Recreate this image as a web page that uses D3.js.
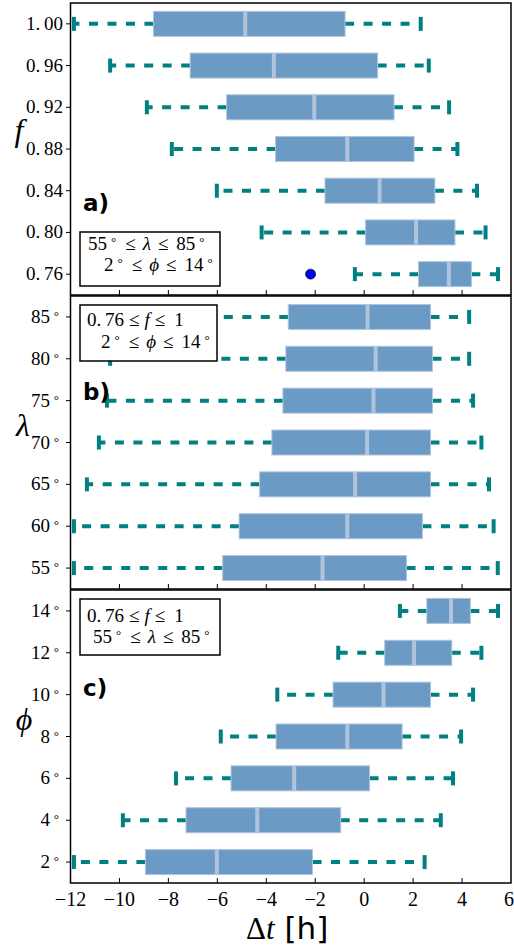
<!DOCTYPE html>
<html>
<head>
<meta charset="utf-8">
<script src="https://cdn.jsdelivr.net/npm/d3@7"></script>
<style>
  body { margin: 0; background: #fff; }
</style>
</head>
<body>
<div id="chart"></div>
<script>
// x ticks
const xTicks = [-12, -10, -8, -6, -4, -2, 0, 2, 4, 6]

// panel a : f (bottom to top)
const fLabels = ["0.\u200976", "0.\u200980", "0.\u200984", "0.\u200988", "0.\u200992", "0.\u200996", "1.\u200900"]
const fWhisLo = [-0.38, -4.19, -6.02, -7.86, -8.88, -10.38, -11.86]
const fQ1 = [2.22, 0.06, -1.60, -3.62, -5.62, -7.11, -8.61]
const fMed = [3.46, 2.12, 0.63, -0.69, -2.04, -3.69, -4.86]
const fQ3 = [4.38, 3.71, 2.89, 2.04, 1.22, 0.55, -0.78]
const fWhisHi = [5.47, 4.96, 4.61, 3.81, 3.47, 2.64, 2.31]
const fOutliers = [[0, -2.19]]

// panel b : lambda
const lamLabels = ["55", "60", "65", "70", "75", "80", "85"]
const lamWhisLo = [-11.86, -11.86, -11.33, -10.84, -10.51, -10.38, -10.2]
const lamQ1 = [-5.78, -5.11, -4.27, -3.77, -3.32, -3.20, -3.10]
const lamMed = [-1.70, -0.69, -0.37, 0.12, 0.38, 0.47, 0.14]
const lamQ3 = [1.73, 2.38, 2.71, 2.71, 2.79, 2.79, 2.71]
const lamWhisHi = [5.46, 5.29, 5.10, 4.79, 4.45, 4.29, 4.29]

// panel c : phi
const phiLabels = ["2", "4", "6", "8", "10", "12", "14"]
const phiWhisLo = [-11.86, -9.86, -7.69, -5.86, -3.55, -1.06, 1.46]
const phiQ1 = [-8.94, -7.28, -5.44, -3.60, -1.27, 0.84, 2.56]
const phiMed = [-6.02, -4.37, -2.86, -0.69, 0.79, 2.04, 3.55]
const phiQ3 = [-2.11, -0.96, 0.22, 1.55, 2.71, 3.58, 4.34]
const phiWhisHi = [2.47, 3.13, 3.63, 3.96, 4.45, 4.79, 5.47]

const width = 514
const height = 946
const serif = "'Liberation Serif', 'DejaVu Serif', serif"
const sans = "'DejaVu Sans', sans-serif"
const PHI = "\u03D5"

const boxColor = "#6b9bc4"
const lightColor = "#b0c4de"
const whiskColor = "#008080"

const svg = d3.select("#chart")
    .append("svg")
    .attr("width", width)
    .attr("height", height)

const x = d3.scaleLinear()
    .domain([-12, 6])
    .range([70.5, 511])

const panels = [
    { top: 3, bottom: 295, labels: fLabels, deg: false, lo: fWhisLo, q1: fQ1, med: fMed, q3: fQ3, hi: fWhisHi, outliers: fOutliers,
      name: "f", nameX: 19, nameY: 141, tag: "a)", tagY: 211,
      legend: { x: 80, y: 232, w: 140, h: 54 } },
    { top: 296, bottom: 589, labels: lamLabels, deg: true, lo: lamWhisLo, q1: lamQ1, med: lamMed, q3: lamQ3, hi: lamWhisHi, outliers: [],
      name: "λ", nameX: 23, nameY: 436, tag: "b)", tagY: 400,
      legend: { x: 80, y: 305, w: 137, h: 56 } },
    { top: 590, bottom: 883, labels: phiLabels, deg: true, lo: phiWhisLo, q1: phiQ1, med: phiMed, q3: phiQ3, hi: phiWhisHi, outliers: [],
      name: PHI, nameX: 24, nameY: 730, tag: "c)", tagY: 696,
      legend: { x: 80, y: 599, w: 140, h: 56 } }
]

panels.forEach((p, pi) => {
    const y = d3.scaleLinear()
        .domain([0.5, 7.5])
        .range([p.bottom, p.top])
    const g = svg.append("g")
    const idx = d3.range(7)
    const boxH = 25
    const capH = 14

    // whiskers
    g.selectAll(".wlo")
        .data(idx)
        .join("line")
        .attr("x1", i => x(p.q1[i]))
        .attr("x2", i => x(p.lo[i]))
        .attr("y1", i => y(i + 1))
        .attr("y2", i => y(i + 1))
        .attr("stroke", whiskColor)
        .attr("stroke-width", 4)
        .attr("stroke-dasharray", "9,9.5")
    g.selectAll(".whi")
        .data(idx)
        .join("line")
        .attr("x1", i => x(p.q3[i]))
        .attr("x2", i => x(p.hi[i]))
        .attr("y1", i => y(i + 1))
        .attr("y2", i => y(i + 1))
        .attr("stroke", whiskColor)
        .attr("stroke-width", 4)
        .attr("stroke-dasharray", "9,9.5")

    // caps
    const caps = idx.flatMap(i => [[i, p.lo[i]], [i, p.hi[i]]])
    g.selectAll(".cap")
        .data(caps)
        .join("line")
        .attr("x1", d => x(d[1]))
        .attr("x2", d => x(d[1]))
        .attr("y1", d => y(d[0] + 1) - capH / 2)
        .attr("y2", d => y(d[0] + 1) + capH / 2)
        .attr("stroke", whiskColor)
        .attr("stroke-width", 4)

    // boxes
    g.selectAll(".box")
        .data(idx)
        .join("rect")
        .attr("x", i => x(p.q1[i]))
        .attr("y", i => y(i + 1) - boxH / 2)
        .attr("width", i => x(p.q3[i]) - x(p.q1[i]))
        .attr("height", boxH)
        .attr("fill", boxColor)
        .attr("stroke", lightColor)
        .attr("stroke-width", 1)

    // medians
    g.selectAll(".med")
        .data(idx)
        .join("line")
        .attr("x1", i => x(p.med[i]))
        .attr("x2", i => x(p.med[i]))
        .attr("y1", i => y(i + 1) - boxH / 2)
        .attr("y2", i => y(i + 1) + boxH / 2)
        .attr("stroke", lightColor)
        .attr("stroke-width", 4)

    g.selectAll(".out")
        .data(p.outliers)
        .join("circle")
        .attr("cx", d => x(d[1]))
        .attr("cy", d => y(d[0] + 1))
        .attr("r", 5)
        .attr("fill", "#0000ff")
        .attr("stroke", "#000")
        .attr("stroke-width", 0.6)

    // frame
    g.append("rect")
        .attr("x", 70.5)
        .attr("y", p.top)
        .attr("width", 511 - 70.5)
        .attr("height", p.bottom - p.top)
        .attr("fill", "none")
        .attr("stroke", "#000")
        .attr("stroke-width", 1.5)

    // bottom ticks (inward)
    g.selectAll(".xt")
        .data(xTicks.slice(1, -1))
        .join("line")
        .attr("x1", d => x(d))
        .attr("x2", d => x(d))
        .attr("y1", p.bottom)
        .attr("y2", p.bottom - 5)
        .attr("stroke", "#000")
        .attr("stroke-width", 1)

    // y ticks (outward) + labels
    g.selectAll(".yt")
        .data(idx)
        .join("line")
        .attr("x1", 66)
        .attr("x2", 70.5)
        .attr("y1", i => y(i + 1))
        .attr("y2", i => y(i + 1))
        .attr("stroke", "#000")
        .attr("stroke-width", 1)
    const yl = g.selectAll(".yl")
        .data(idx)
        .join("text")
        .attr("x", p.deg ? 59 : 63)
        .attr("y", i => y(i + 1) + 6)
        .attr("text-anchor", "end")
        .attr("font-family", serif)
        .attr("font-size", 19)
        .text(i => p.deg ? p.labels[i] + "\u2009" : p.labels[i])
    if (p.deg) {
        yl.append("tspan")
            .attr("font-size", 13)
            .attr("dy", -3)
            .text("°")
    }

    // axis name
    g.append("text")
        .attr("x", p.nameX)
        .attr("y", p.nameY)
        .attr("text-anchor", "middle")
        .attr("font-family", serif)
        .attr("font-style", "italic")
        .attr("font-size", 32)
        .text(p.name)

    // panel tag
    g.append("text")
        .attr("x", 83)
        .attr("y", p.tagY)
        .attr("font-family", sans)
        .attr("font-weight", "bold")
        .attr("font-size", 23)
        .text(p.tag)

    // legend box
    g.append("rect")
        .attr("x", p.legend.x)
        .attr("y", p.legend.y)
        .attr("width", p.legend.w)
        .attr("height", p.legend.h)
        .attr("fill", "#fff")
        .attr("stroke", "#000")
        .attr("stroke-width", 1.5)
})

// legend texts: [text, kind, dx]  kind: n normal, i italic, d degree
const legendLine = (xp, yp, parts) => {
    const t = svg.append("text")
        .attr("x", xp)
        .attr("y", yp)
        .attr("font-family", serif)
        .attr("font-size", 19)
    let raised = false
    parts.forEach(pt => {
        const s = t.append("tspan")
            .attr("dx", pt[2])
            .text(pt[0])
        if (pt[1] === "i") s.attr("font-style", "italic")
        if (pt[1] === "d") {
            s.attr("font-size", 13).attr("dy", -4)
            raised = true
        } else if (raised) {
            s.attr("dy", 4)
            raised = false
        }
    })
}
const degLine = (xp, yp, a, sym, b) => legendLine(xp, yp,
    [[a, "n", 0], ["°", "d", 4], ["≤", "n", 9], [sym, "i", 7], ["≤", "n", 7], [b, "n", 8], ["°", "d", 4]])
const fLine = (xp, yp) => legendLine(xp, yp,
    [["0.\u200976", "n", 0], ["≤", "n", 5], ["f", "i", 5], ["≤", "n", 5], ["1", "n", 9]])

degLine(88, 250, "55", "λ", "85")
degLine(104, 271, "2", PHI, "14")
fLine(87, 326)
degLine(101, 348, "2", PHI, "14")
fLine(87, 622)
degLine(93, 643, "55", "λ", "85")

// x tick labels (bottom panel only)
svg.selectAll(".xl")
    .data(xTicks)
    .join("text")
    .attr("x", d => d === 6 ? 514 : x(d))
    .attr("y", 906)
    .attr("text-anchor", d => d === 6 ? "end" : "middle")
    .attr("font-family", serif)
    .attr("font-size", 20)
    .text(d => d < 0 ? "\u2212" + Math.abs(d) : d)

// x label
const xl = svg.append("text")
    .attr("x", 246)
    .attr("y", 939)
    .attr("font-size", 31)
xl.append("tspan").attr("font-family", serif).text("Δ")
xl.append("tspan").attr("font-family", serif).attr("font-style", "italic").text("t")
xl.append("tspan").attr("font-family", sans).text(" [h]")
</script>
</body>
</html>
